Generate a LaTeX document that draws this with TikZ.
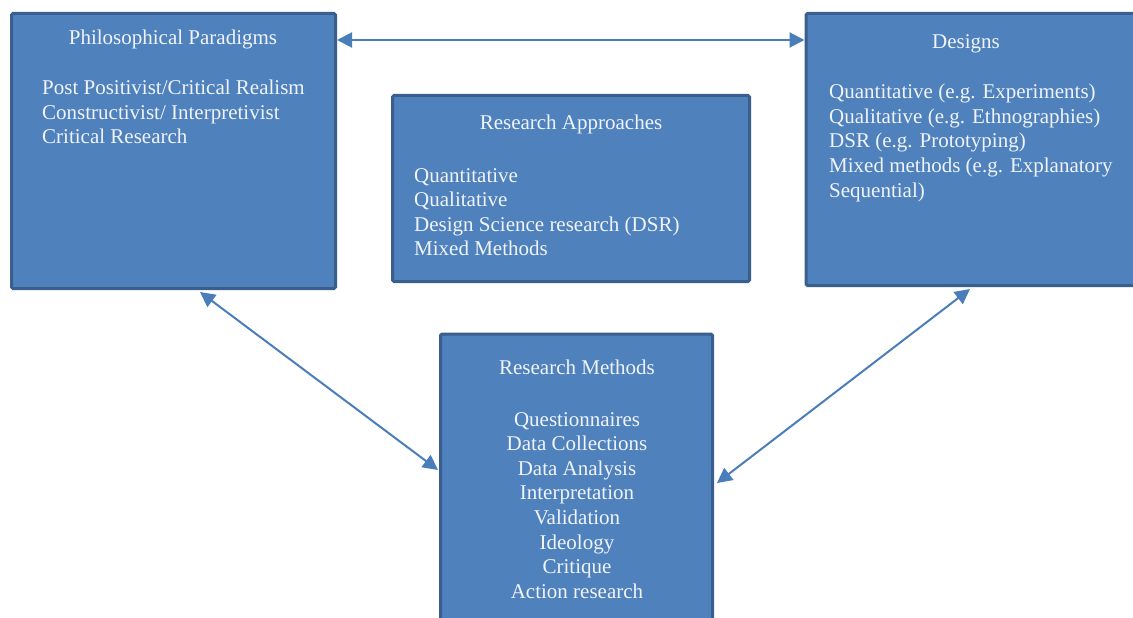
\documentclass[tikz,border=0pt]{standalone}
\usepackage{fontspec}
\setmainfont{Liberation Serif}
\usetikzlibrary{arrows.meta,calc}
\definecolor{boxfill}{HTML}{4F81BD}
\definecolor{boxline}{HTML}{3A5F8E}
\definecolor{arrowblue}{HTML}{4A7EBB}
\definecolor{boxtext}{HTML}{F0F4FA}
\begin{document}
\begin{tikzpicture}[x=1pt,y=-1pt,
  panel/.style={draw=boxline, line width=3pt, fill=boxfill, rounded corners=1.5pt, inner sep=0pt},
  txt/.style={text=boxtext, font=\fontsize{21}{24.6}\selectfont, inner sep=0pt},
  head/.style={txt, anchor=base},
  body/.style={txt, anchor=north west, align=left},
  cbody/.style={txt, anchor=north, align=center},
  link/.style={draw=arrowblue, line width=2pt, {Triangle[length=15pt,width=15pt]}-{Triangle[length=15pt,width=15pt]}}]
\useasboundingbox (0,0) rectangle (1133,618);

% the four boxes
\node[panel, minimum width=324pt, minimum height=275pt] (pp)  at (173.5,151) {};
\node[panel, minimum width=357pt, minimum height=186pt] (ra)  at (571,188.5) {};
\node[panel, minimum width=335pt, minimum height=272pt] (des) at (973.5,149.5) {};
\node[panel, minimum width=272pt, minimum height=300pt] (rm)  at (576.5,484) {};

% Philosophical Paradigms
\node[head] (ppt) at (173,45) {Philosophical Paradigms};
\node[body] (ppb) at (42,80) {Post Positivist/Critical Realism\\Constructivist/ Interpretivist\\Critical Research};

% Research Approaches
\node[head] (rat) at (571,129) {Research Approaches};
\node[body] (rab) at (414,168) {Quantitative\\Qualitative\\Design Science research (DSR)\\Mixed Methods};

% Designs
\node[head] (dest) at (966,49) {Designs};
\node[body] (desb) at (829,84) {Quantitative (e.g. Experiments)\\Qualitative (e.g. Ethnographies)\\DSR (e.g. Prototyping)\\Mixed methods (e.g. Explanatory\\Sequential)};

% Research Methods
\node[head] (rmt) at (577,374) {Research Methods};
\node[cbody] (rmb) at (577,412) {Questionnaires\\Data Collections\\Data Analysis\\Interpretation\\Validation\\Ideology\\Critique\\Action research};

% connector end points on the box borders
\coordinate (ppE)  at (pp.east |- 0,40);
\coordinate (desW) at (des.west |- 0,40);
\coordinate (ppS)  at (200,0 |- pp.south);
\coordinate (rmW)  at (rm.west |- 0,470);
\coordinate (desS) at (970,0 |- des.south);
\coordinate (rmE)  at ($(rm.east |- 0,483)+(3,0)$);

\draw[link] (ppE) -- (desW);
\draw[link] ($(ppS)+(0,2)$) -- ($(rmW)+(-1,0)$);
\draw[link] ($(desS)+(0,2)$) -- (rmE);
\end{tikzpicture}
\end{document}
